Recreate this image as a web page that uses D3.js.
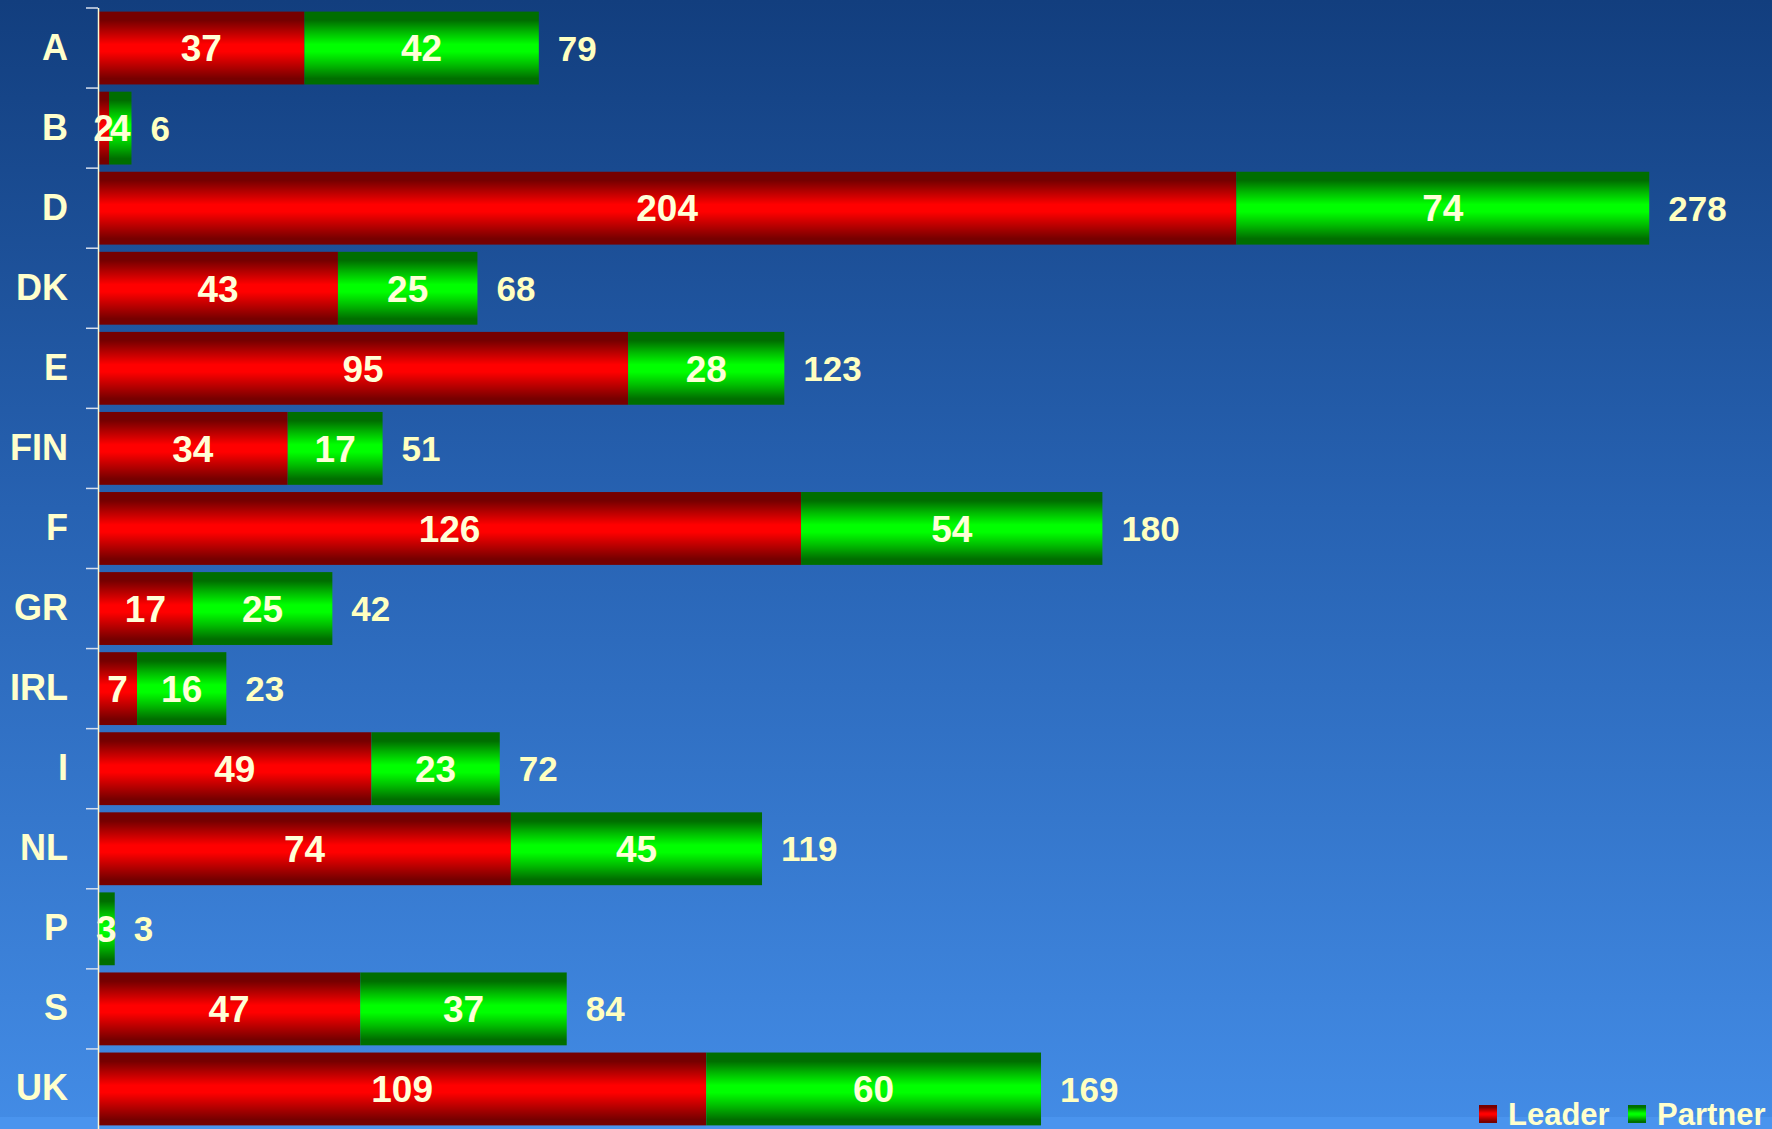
<!DOCTYPE html>
<html>
<head>
<meta charset="utf-8">
<script src="https://cdn.jsdelivr.net/npm/d3@7"></script>
<style>
  html, body { margin: 0; padding: 0; background: #2a66b6; }
  svg { display: block; }
  text { font-family: "Liberation Sans", Arial, sans-serif; font-weight: bold; }
</style>
</head>
<body>
<svg id="chart" width="1772" height="1129"></svg>
<script>
const categories = ["A", "B", "D", "DK", "E", "FIN", "F", "GR", "IRL", "I", "NL", "P", "S", "UK"];
const leader  = [37, 2, 204, 43, 95, 34, 126, 17, 7, 49, 74, 0, 47, 109];
const partner = [42, 4, 74, 25, 28, 17, 54, 25, 16, 23, 45, 3, 37, 60];
const totals  = [79, 6, 278, 68, 123, 51, 180, 42, 23, 72, 119, 3, 84, 169];
const seriesNames = ["Leader", "Partner"];

const W = 1772, H = 1129;
const svg = d3.select("#chart");
const defs = svg.append("defs");

// background gradient
const bg = defs.append("linearGradient").attr("id", "bg").attr("x1", 0).attr("y1", 0).attr("x2", 0).attr("y2", 1);
bg.append("stop").attr("offset", "0%").attr("stop-color", "#123e7e");
bg.append("stop").attr("offset", "45%").attr("stop-color", "#2762b2");
bg.append("stop").attr("offset", "100%").attr("stop-color", "#438ce6");
svg.append("rect").attr("width", W).attr("height", H).attr("fill", "url(#bg)");
svg.append("rect").attr("x", 0).attr("y", 1117).attr("width", W).attr("height", H - 1117).attr("fill", "#4a94ee");

function barGrad(id, dark, mid, bright) {
  const g = defs.append("linearGradient").attr("id", id).attr("x1", 0).attr("y1", 0).attr("x2", 0).attr("y2", 1);
  [[0, dark], [0.12, dark], [0.3, mid], [0.45, bright], [0.55, bright], [0.72, mid], [0.92, dark], [1, dark]]
    .forEach(([o, c]) => g.append("stop").attr("offset", o).attr("stop-color", c));
}
barGrad("gRed", "#760000", "#c00000", "#ff0000");
barGrad("gGreen", "#006e00", "#00c000", "#00ff00");
const fills = ["url(#gRed)", "url(#gGreen)"];

const x = d3.scaleLinear().domain([0, 300]).range([98, W]);
const y = d3.scaleBand().domain(categories).range([8, H]).paddingInner(0.09).paddingOuter(0.045);
const step = y.step();

const rows = categories.map((c, i) => ({ cat: c, vals: [leader[i], partner[i]], total: totals[i] }));
const stack = d3.stack().keys([0, 1]).value((d, k) => d.vals[k]);
const stacked = stack(rows);

// bars
stacked.forEach((layer, k) => {
  svg.append("g").selectAll("rect").data(layer).join("rect")
    .attr("x", d => x(d[0]))
    .attr("y", d => y(d.data.cat))
    .attr("width", d => x(d[1]) - x(d[0]))
    .attr("height", y.bandwidth())
    .attr("fill", fills[k]);
});

// segment labels
stacked.forEach((layer, k) => {
  svg.append("g").selectAll("text").data(layer.filter(d => d.data.vals[k] > 0)).join("text")
    .attr("x", d => (x(d[0]) + x(d[1])) / 2)
    .attr("y", d => y(d.data.cat) + y.bandwidth() / 2)
    .attr("dy", "0.36em")
    .attr("text-anchor", "middle")
    .attr("font-size", 37)
    .attr("fill", "#ffffd8")
    .text(d => d.data.vals[k]);
});

// total labels
svg.append("g").selectAll("text").data(rows).join("text")
  .attr("x", d => x(d.total) + 19)
  .attr("y", d => y(d.cat) + y.bandwidth() / 2)
  .attr("dy", "0.36em")
  .attr("font-size", 35)
  .attr("fill", "#ffffc0")
  .text(d => d.total);

// axis with category labels
const axis = svg.append("g").attr("transform", "translate(98,0)")
  .call(d3.axisLeft(y).tickSize(0).tickPadding(30));
axis.select(".domain").remove();
axis.selectAll("text")
  .attr("font-size", 36)
  .attr("fill", "#ffffcc")
  .attr("font-family", "'Liberation Sans', Arial, sans-serif")
  .attr("font-weight", "bold");

// boundary ticks
const bounds = d3.range(categories.length).map(i => 8 + i * step);
svg.append("g").selectAll("line").data(bounds).join("line")
  .attr("x1", 86).attr("x2", 98)
  .attr("y1", d => d).attr("y2", d => d)
  .attr("stroke", "#d8e0ee").attr("stroke-width", 1.5);
svg.append("line").attr("x1", 98.5).attr("x2", 98.5).attr("y1", 8).attr("y2", H)
  .attr("stroke", "#fff8d0").attr("stroke-width", 1.5);

// legend
const legend = svg.append("g");
const legX = [1479, 1628];
seriesNames.forEach((name, k) => {
  legend.append("rect").attr("x", legX[k]).attr("y", 1105).attr("width", 18).attr("height", 18).attr("fill", fills[k]);
  legend.append("text").attr("x", legX[k] + 29).attr("y", 1125)
    .attr("font-size", 31).attr("fill", "#ffffcc").text(name);
});
</script>
</body>
</html>
